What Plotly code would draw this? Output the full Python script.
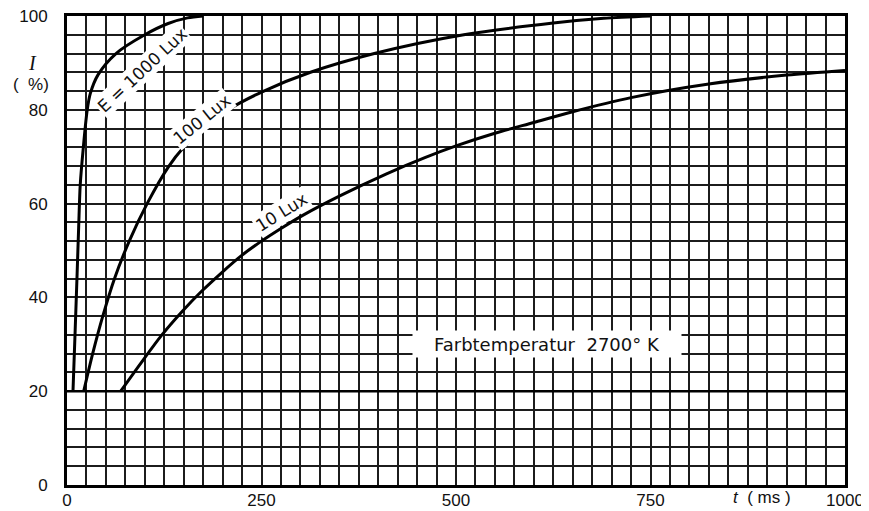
import plotly.graph_objects as go

# ---- data ----
x_ticks = [0, 250, 500, 750, 1000]
y_ticks = [0, 20, 40, 60, 80, 100]

lux1000_t = [7.7, 10.5, 13, 15, 17, 21, 26, 30, 40, 63, 100, 130, 155, 175]
lux1000_i = [20, 33, 45, 55, 64, 72, 80, 83.5, 87.5, 92, 96, 98.4, 99.6, 100]

lux100_t = [21.5, 33, 46, 61, 80, 103, 131, 150, 175, 207, 253, 313, 395, 510, 625, 690, 750]
lux100_i = [20, 28, 36, 44, 52, 60, 68, 72, 76, 80, 84, 88, 92, 96, 98.5, 99.5, 100]

lux10_t = [69, 95, 122, 148, 173, 199, 225, 250, 275, 303, 350, 410, 460, 500, 550, 600, 650, 725, 825, 925, 1000]
lux10_i = [20, 26, 32, 37, 41.3, 45.3, 49, 52, 54.7, 57.5, 61.6, 66.3, 69.8, 72.3, 75, 77.3, 79.6, 82.6, 85.5, 87.4, 88.4]

base_level = 20

fig = go.Figure()
for xs, ys in [(lux1000_t, lux1000_i), (lux100_t, lux100_i), (lux10_t, lux10_i)]:
    fig.add_trace(go.Scatter(x=xs, y=ys, mode="lines",
                             line=dict(color="black", width=3, shape="spline", smoothing=0.8),
                             showlegend=False, hoverinfo="skip"))

fig.add_hline(y=base_level, line=dict(color="black", width=2.6))

grid_col = "#1c1c1c"
fig.update_xaxes(range=[0, 1000], tickvals=x_ticks, ticktext=[str(v) for v in x_ticks],
                 showgrid=True, gridcolor=grid_col, gridwidth=1.6,
                 minor=dict(dtick=25, tick0=0, showgrid=True, gridcolor=grid_col, gridwidth=1.6),
                 showline=True, linecolor="black", linewidth=3, mirror=True,
                 ticks="", ticklabelstandoff=-2, ticklabeloverflow="allow",
                 zeroline=False, automargin=False,
                 tickfont=dict(family="Liberation Sans", size=17, color="#111"))
fig.update_yaxes(range=[0, 100], tickvals=y_ticks, ticktext=[str(v) for v in y_ticks],
                 showgrid=True, gridcolor=grid_col, gridwidth=1.6,
                 minor=dict(dtick=4, tick0=0, showgrid=True, gridcolor=grid_col, gridwidth=1.6),
                 showline=True, linecolor="black", linewidth=3, mirror=True,
                 ticks="", ticklabelstandoff=13, ticklabeloverflow="allow",
                 zeroline=False, automargin=False,
                 tickfont=dict(family="Liberation Sans", size=17, color="#111"))

lab_font = dict(family="DejaVu Sans", size=17, color="#111")
fig.add_annotation(x=97, y=88.5, text="E = 1000 Lux", textangle=-43, showarrow=False,
                   font=lab_font, bgcolor="white", borderpad=1)
fig.add_annotation(x=174, y=78, text="100 Lux", textangle=-39, showarrow=False,
                   font=lab_font, bgcolor="white", borderpad=1)
fig.add_annotation(x=276, y=58.2, text="10 Lux", textangle=-32, showarrow=False,
                   font=lab_font, bgcolor="white", borderpad=1)
fig.add_annotation(x=617, y=30, text="Farbtemperatur  2700° K", showarrow=False,
                   font=dict(family="DejaVu Sans", size=18, color="#111"),
                   bgcolor="white", width=266, height=24)

fig.add_annotation(xref="paper", yref="paper", x=-0.044, y=0.90, xanchor="center", yanchor="middle",
                   text="<i>I</i>", showarrow=False,
                   font=dict(family="Liberation Serif", size=20, color="#111"))
fig.add_annotation(xref="paper", yref="paper", x=-0.046, y=0.855, xanchor="center", yanchor="middle",
                   text="(  %)", showarrow=False,
                   font=dict(family="Liberation Sans", size=17, color="#111"))
fig.add_annotation(xref="paper", yref="paper", x=0.893, y=-0.026, xanchor="center", yanchor="middle",
                   text="<i>t</i>  ( ms )", showarrow=False,
                   font=dict(family="Liberation Sans", size=17, color="#111"))

# page body adds an 8px offset; size the figure so the plot lands where the reference has it
fig.update_layout(width=861, height=503, margin=dict(l=59, r=24, t=8, b=26),
                  plot_bgcolor="white", paper_bgcolor="white")

fig.write_html("out.html")
